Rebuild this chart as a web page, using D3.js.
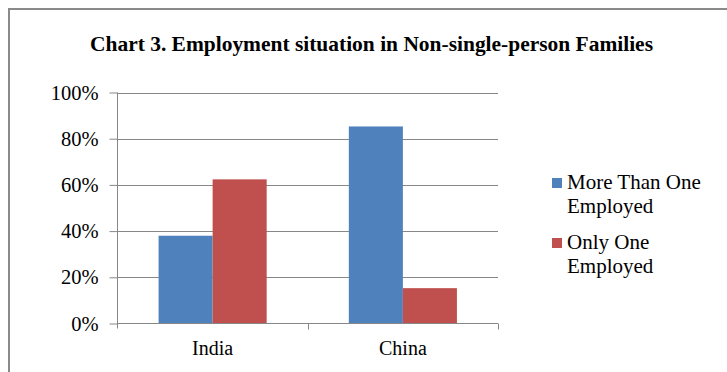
<!DOCTYPE html>
<html>
<head>
<meta charset="utf-8">
<script src="https://cdn.jsdelivr.net/npm/d3@7"></script>
<style>
  body { margin: 0; background: #fff; }
  svg text { font-family: "Liberation Serif", Tinos, "Times New Roman", Times, "DejaVu Serif", serif !important; fill: #000; }
</style>
</head>
<body>
<script>
// chart data
const countries = ["India", "China"];
const seriesNames = ["More Than One Employed", "Only One Employed"];
const moreThanOne = [0.38, 0.853];
const onlyOne = [0.624, 0.153];
const yTicks = [0, 0.2, 0.4, 0.6, 0.8, 1.0];
const legendLines = [["More Than One", "Employed"], ["Only One", "Employed"]];
const colors = ["#4f81bd", "#c0504d"];

let w = 727;
let h = 372;

var svg = d3.select("body")
  .append("svg")
  .attr("width", w)
  .attr("height", h);

// outer frame (only top + left edges visible)
svg.append("path")
  .attr("d", "M9,372 V9 H727")
  .attr("fill", "none")
  .attr("stroke", "#8a8a8a")
  .attr("stroke-width", 2);

svg.append("text")
  .attr("x", 371.5)
  .attr("y", 51)
  .attr("text-anchor", "middle")
  .attr("font-size", 21)
  .attr("font-weight", "bold")
  .attr("textLength", 563)
  .attr("lengthAdjust", "spacingAndGlyphs")
  .text("Chart 3. Employment situation in Non-single-person Families");

let plotL = 117.5, plotR = 498, plotT = 92.5, plotB = 323.5;

var x = d3.scaleBand()
  .domain(countries)
  .range([plotL, plotR]);

var x1 = d3.scaleBand()
  .domain(seriesNames)
  .range([0, x.bandwidth()])
  .paddingOuter(0.76)
  .paddingInner(0);

var y = d3.scaleLinear()
  .domain([0, 1])
  .range([plotB, plotT]);

// gridlines
svg.selectAll(".grid")
  .data(yTicks.slice(1))
  .enter()
  .append("line")
  .attr("x1", plotL)
  .attr("x2", plotR)
  .attr("y1", d => Math.round(y(d)) + 0.5)
  .attr("y2", d => Math.round(y(d)) + 0.5)
  .attr("stroke", "#878787")
  .attr("stroke-width", 1);

// y axis
var yAxis = svg.append("g")
  .attr("transform", "translate(" + plotL + ",0)")
  .call(d3.axisLeft(y).tickValues(yTicks).tickFormat(d3.format(".0%")).tickSize(8).tickPadding(11));
yAxis.attr("font-family", null);
yAxis.select(".domain").attr("stroke", "#878787").attr("d", "M0," + plotT + "V" + (plotB + 5));
yAxis.selectAll(".tick line").attr("stroke", "#878787");
yAxis.selectAll("text")
  .attr("font-size", 20.5);

// bars
var data = countries.map((c, i) => ({ country: c, values: [moreThanOne[i], onlyOne[i]] }));

var groups = svg.selectAll(".grp")
  .data(data)
  .enter()
  .append("g")
  .attr("transform", d => "translate(" + x(d.country) + ",0)");

groups.selectAll("rect")
  .data(d => d.values.map((v, i) => ({ key: seriesNames[i], v: v, i: i })))
  .enter()
  .append("rect")
  .attr("x", d => x1(d.key))
  .attr("width", x1.bandwidth())
  .attr("y", d => y(d.v))
  .attr("height", d => plotB - y(d.v))
  .attr("fill", d => colors[d.i]);

// x axis
var xAxis = svg.append("g")
  .attr("transform", "translate(0," + plotB + ")")
  .call(d3.axisBottom(x).tickSize(0).tickPadding(17));
xAxis.attr("font-family", null);
xAxis.select(".domain").attr("stroke", "#878787").attr("d", "M" + plotL + ",0H" + plotR);
xAxis.selectAll("text")
  .attr("font-size", 20);

svg.selectAll(".xtick")
  .data([plotL + x.bandwidth(), plotR])
  .enter()
  .append("line")
  .attr("x1", d => Math.round(d) + 0.5)
  .attr("x2", d => Math.round(d) + 0.5)
  .attr("y1", plotB)
  .attr("y2", plotB + 6)
  .attr("stroke", "#878787");

// legend
var legend = svg.selectAll(".leg")
  .data(legendLines)
  .enter()
  .append("g")
  .attr("transform", (d, i) => "translate(552," + (178 + i * 60) + ")");

legend.append("rect")
  .attr("width", 10)
  .attr("height", 10)
  .attr("fill", (d, i) => colors[i]);

legend.each(function(d) {
  var t = d3.select(this).append("text")
    .attr("x", 15)
    .attr("y", 10.5)
    .attr("font-size", 21);
  d.forEach((line, j) => {
    t.append("tspan")
      .attr("x", 15)
      .attr("dy", j === 0 ? 0 : 24.5)
      .text(line);
  });
});
</script>
</body>
</html>
